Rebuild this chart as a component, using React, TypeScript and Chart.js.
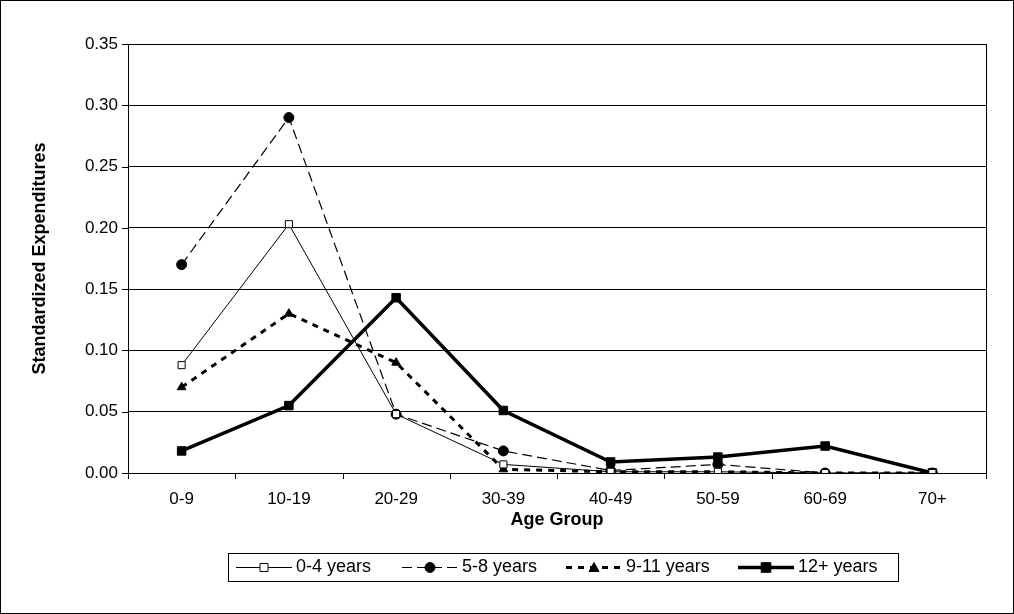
import React, { useEffect, useRef } from "react";
import { Chart, registerables } from "chart.js";
Chart.register(...registerables);

const categories = ["0-9", "10-19", "20-29", "30-39", "40-49", "50-59", "60-69", "70+"];
const s0to4 = [0.088, 0.203, 0.048, 0.007, 0.001, 0.001, 0.0, 0.0];
const s5to8 = [0.17, 0.29, 0.048, 0.018, 0.002, 0.007, 0.0, 0.0];
const s9to11 = [0.07, 0.13, 0.09, 0.003, 0.001, 0.001, 0.0, 0.0];
const s12plus = [0.018, 0.055, 0.143, 0.051, 0.009, 0.013, 0.022, 0.0];
const yTicks = [0, 0.05, 0.1, 0.15, 0.2, 0.25, 0.3, 0.35];

const FONT = "'Liberation Sans', Arial, sans-serif";

const L = 128, R = 986, T = 44, B = 473;

const decor = {
  id: "decor",
  afterDraw(chart: any) {
    const ctx = chart.ctx;
    const ca = chart.chartArea;
    ctx.save();
    ctx.strokeStyle = "#000";
    ctx.lineWidth = 1;
    ctx.strokeRect(0.5, 0.5, chart.width - 1, chart.height - 1);
    ctx.strokeRect(Math.round(ca.left) + 0.5, Math.round(ca.top) + 0.5, Math.round(ca.right - ca.left), Math.round(ca.bottom - ca.top));
    const n = categories.length;
    const w = (ca.right - ca.left) / n;
    for (let i = 0; i <= n; i++) {
      const x = Math.round(ca.left + i * w) + 0.5;
      ctx.beginPath();
      ctx.moveTo(x, ca.bottom);
      ctx.lineTo(x, ca.bottom + 6);
      ctx.stroke();
    }
    const ys = chart.scales.y;
    yTicks.forEach((v) => {
      const y = Math.round(ys.getPixelForValue(v)) + 0.5;
      ctx.beginPath();
      ctx.moveTo(ca.left - 6, y);
      ctx.lineTo(ca.left, y);
      ctx.stroke();
    });
    ctx.fillStyle = "#000";
    ctx.font = `bold 18px ${FONT}`;
    ctx.textAlign = "center";
    ctx.textBaseline = "middle";
    ctx.fillText("Age Group", (ca.left + ca.right) / 2, 520);
    ctx.save();
    ctx.translate(40, (ca.top + ca.bottom) / 2);
    ctx.rotate(-Math.PI / 2);
    ctx.fillText("Standardized Expenditures", 0, 0);
    ctx.restore();
    const lx = 228, ly = 553, lw = 670, lh = 28;
    ctx.strokeRect(lx + 0.5, ly + 0.5, lw, lh);
    ctx.font = `18px ${FONT}`;
    ctx.textAlign = "left";
    const cy = ly + lh / 2 + 0.5;
    const items = chart.data.datasets;
    const starts = [236, 402, 566, 738];
    items.forEach((ds: any, i: number) => {
      const x0 = starts[i];
      ctx.save();
      ctx.strokeStyle = "#000";
      ctx.lineWidth = ds.borderWidth;
      ctx.setLineDash(ds.borderDash || []);
      ctx.beginPath();
      ctx.moveTo(x0, cy);
      ctx.lineTo(x0 + 56, cy);
      ctx.stroke();
      ctx.restore();
      ctx.save();
      const mx = x0 + 28;
      const r = ds.pointRadius;
      ctx.fillStyle = ds.pointBackgroundColor;
      ctx.strokeStyle = "#000";
      ctx.lineWidth = 1;
      ctx.beginPath();
      if (ds.pointStyle === "circle") ctx.arc(mx, cy, r, 0, Math.PI * 2);
      else if (ds.pointStyle === "triangle") {
        ctx.moveTo(mx, cy - r); ctx.lineTo(mx + r, cy + r * 0.8); ctx.lineTo(mx - r, cy + r * 0.8); ctx.closePath();
      } else ctx.rect(mx - r * 0.8, cy - r * 0.8, r * 1.6, r * 1.6);
      ctx.fill();
      ctx.stroke();
      ctx.restore();
      ctx.fillStyle = "#000";
      ctx.fillText(ds.label, x0 + 60, cy);
    });
    ctx.restore();
  },
};

export default function App() {
  const ref = useRef<HTMLCanvasElement>(null);
  useEffect(() => {
    document.body.style.margin = "0";
    const mk = (label: string, data: number[], bw: number, dash: number[], ps: string, bg: string, r: number) => ({
      label, data, borderColor: "#000", borderWidth: bw, borderDash: dash, pointStyle: ps,
      pointBackgroundColor: bg, pointBorderColor: "#000", pointBorderWidth: 1, pointRadius: r, tension: 0, fill: false,
    });
    const chart = new Chart(ref.current!, {
      type: "line",
      data: {
        labels: categories,
        datasets: [
          mk("0-4 years", s0to4, 1, [], "rect", "#fff", 5),
          mk("5-8 years", s5to8, 1.2, [10, 5], "circle", "#000", 5),
          mk("9-11 years", s9to11, 3, [6, 6], "triangle", "#000", 5),
          mk("12+ years", s12plus, 3.5, [], "rect", "#000", 6),
        ] as any,
      },
      options: {
        animation: false,
        responsive: false,
        devicePixelRatio: 1,
        layout: { padding: { left: 0, right: 1014 - R, top: T, bottom: 0 } },
        plugins: { legend: { display: false }, tooltip: { enabled: false } },
        scales: {
          x: {
            offset: true,
            grid: { display: false },
            border: { display: false },
            ticks: { color: "#000", font: { family: FONT, size: 17 }, padding: 8 },
            afterFit: (s: any) => { s.height = 614 - B; },
          },
          y: {
            min: 0, max: 0.35,
            afterBuildTicks: (s: any) => { s.ticks = yTicks.map((v) => ({ value: v })); },
            grid: { color: "#000", drawTicks: false, lineWidth: 1 },
            border: { display: false },
            ticks: { color: "#000", font: { family: FONT, size: 17 }, padding: 10, callback: (v: any) => Number(v).toFixed(2) },
            afterFit: (s: any) => { s.width = L; },
          },
        },
      },
      plugins: [decor],
    });
    return () => chart.destroy();
  }, []);
  return <canvas ref={ref} width={1014} height={614} style={{ display: "block" }} />;
}
